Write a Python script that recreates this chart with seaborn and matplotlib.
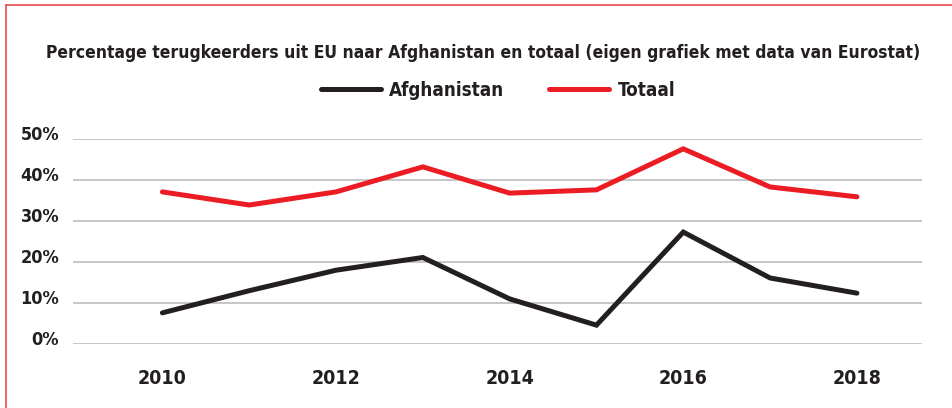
import pandas as pd
import matplotlib
matplotlib.use("Agg")
import matplotlib.pyplot as plt
import matplotlib.transforms as mtransforms
from matplotlib import font_manager
import seaborn as sns

years = [2010, 2011, 2012, 2013, 2014, 2015, 2016, 2017, 2018]
afghanistan = [7.6, 13.0, 18.0, 21.1, 11.0, 4.6, 27.3, 16.1, 12.4]
totaal = [37.1, 33.9, 37.1, 43.2, 36.8, 37.6, 47.6, 38.3, 35.9]
series_names = ["Afghanistan", "Totaal"]
y_ticks = [0, 10, 20, 30, 40, 50]
x_ticks = [2010, 2012, 2014, 2016, 2018]
title = "Percentage terugkeerders uit EU naar Afghanistan en totaal (eigen grafiek met data van Eurostat)"

df = pd.DataFrame({
    "jaar": years * 2,
    "pct": afghanistan + totaal,
    "reeks": [series_names[0]] * len(years) + [series_names[1]] * len(years),
})

# look for a condensed / narrow face, else fall back to Roboto
font, stretch = "Roboto", "normal"
for f in font_manager.fontManager.ttflist:
    st = f.stretch
    narrow = "Condensed" in f.name or "Narrow" in f.name or st in ("condensed", "semi-condensed", "extra-condensed") \
        or (isinstance(st, int) and st < 500)
    if narrow and "CJK" not in f.name:
        font, stretch = f.name, st
        break

sns.set_style("white")
plt.rcParams["font.family"] = [font, "DejaVu Sans"]
plt.rcParams["font.stretch"] = stretch
plt.rcParams["font.weight"] = "bold"

ink = "#231f20"
red = "#ec1c24"
fig = plt.figure(figsize=(9.52, 4.08), dpi=100)
ax = fig.add_axes([73 / 952, 1 - 344 / 408, (922 - 73) / 952, (344 - 139) / 408])

sns.lineplot(data=df, x="jaar", y="pct", hue="reeks",
             palette={"Afghanistan": ink, "Totaal": red},
             linewidth=3.6, ax=ax, legend=False)
for ln in ax.lines:
    ln.set_clip_on(False)
    ln.set_solid_joinstyle("miter")

ax.set_xlim(2008.97, 2018.75)
ax.set_ylim(0, 50)
ax.set_yticks(y_ticks)
ax.set_yticklabels([f"{v}%" for v in y_ticks])
ax.set_xticks(x_ticks)
ax.set_xticklabels([str(v) for v in x_ticks])
ax.grid(axis="y", color="#c6c6c6", linewidth=1.4)
ax.set_axisbelow(True)
for s in ax.spines.values():
    s.set_visible(False)
ax.tick_params(length=0, colors=ink)
ax.tick_params(axis="x", pad=18, labelsize=14)
ax.tick_params(axis="y", pad=10, labelsize=13)
ax.set_xlabel("")
ax.set_ylabel("")
shift = mtransforms.ScaledTranslation(0, 6 / 100, fig.dpi_scale_trans)
for lbl in ax.get_yticklabels():
    lbl.set_transform(lbl.get_transform() + shift)

t = fig.text(483 / 952, 1 - 53 / 408, title, ha="center", va="center",
             fontsize=17, color=ink, weight="bold")
# shrink the title until it fits the width it takes in the original
renderer = fig.canvas.get_renderer()
size = 17
while t.get_window_extent(renderer).width > 880 and size > 8:
    size -= 0.25
    t.set_fontsize(size)

handles = [plt.Line2D([], [], color=ink, lw=3.6),
           plt.Line2D([], [], color=red, lw=3.6)]
fig.legend(handles, series_names, loc="center", bbox_to_anchor=(498 / 952, 1 - 90 / 408),
           ncol=2, frameon=False, fontsize=13.5, handlelength=3.2, handletextpad=0.45,
           columnspacing=2.4, labelcolor=ink)

border = "#e8474f"
fig.add_artist(plt.Line2D([6 / 952, 6 / 952], [0, 1 - 5 / 408], color=border, lw=1.2))
fig.add_artist(plt.Line2D([6 / 952, 1], [1 - 5 / 408, 1 - 5 / 408], color=border, lw=1.2))

fig.savefig("out.png", dpi=100)
